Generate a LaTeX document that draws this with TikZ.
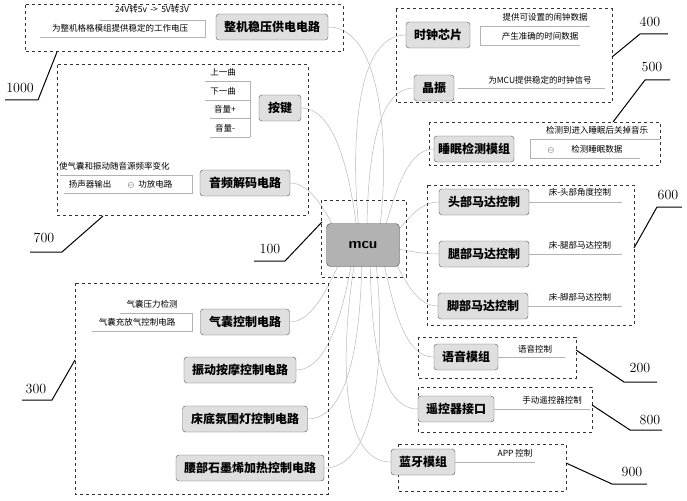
\documentclass[tikz,border=0pt]{standalone}
\usepackage{fontspec}
\newfontfamily\cjk{Noto Sans CJK SC}
\usetikzlibrary{backgrounds}
\tikzset{
 mod/.style={draw=gray!70!black,fill=gray!25,rounded corners=3pt,font=\cjk\bfseries\fontsize{12}{12}\selectfont,minimum height=26pt,inner sep=2pt},
 sm/.style={font=\cjk\fontsize{8.5}{9}\selectfont,inner sep=1pt},
 grp/.style={draw=black!80,dashed,line width=1pt},
 num/.style={font=\fontsize{14}{14}\selectfont},
 lead/.style={line width=1pt},
 link/.style={draw=gray!55,line width=0.5pt},
 ul/.style={draw=gray!60,line width=0.6pt}
}
\begin{document}
\begin{tikzpicture}[x=1pt,y=-1pt]
\useasboundingbox (0,0) rectangle (687,500);
% groups
\draw[grp] (25,5) rectangle (343,52);
\draw[grp] (57,65) rectangle (308,215);
\draw[grp] (321,200) rectangle (406,277);
\draw[grp] (75,283) rectangle (328,494);
\draw[grp] (396,9) rectangle (612,103);
\draw[grp] (429,122) rectangle (660,165);
\draw[grp] (427,185) rectangle (634,325);
\draw[grp] (418,337) rectangle (576,378);
\draw[grp] (418,387) rectangle (592,432);
\draw[grp] (398,444) rectangle (566,491);
% number labels
\node[num] (n1000) at (20,88) {1000};
\draw[lead] (5,100) -- (38,100) -- (57,52);
\node[num] (n700) at (44,238) {700};
\draw[lead] (30,252) -- (62,252) -- (103,216);
\node[num] (n100) at (270,249) {100};
\draw[lead] (254,261) -- (285,261) -- (322,222);
\node[num] (n300) at (36,389) {300};
\draw[lead] (22,400) -- (52,400) -- (75,360);
\node[num] (n400) at (650,22) {400};
\draw[lead] (668,34) -- (640,34) -- (612,57);
\node[num] (n500) at (652,67) {500};
\draw[lead] (670,80) -- (645,80) -- (613,122);
\node[num] (n600) at (668,195) {600};
\draw[lead] (682,207) -- (657,207) -- (634,248);
\node[num] (n200) at (640,368) {200};
\draw[lead] (576,350) -- (624,382) -- (657,382);
\node[num] (n800) at (650,420) {800};
\draw[lead] (592,405) -- (630,430) -- (662,430);
\node[num] (n900) at (632,472) {900};
\draw[lead] (566,463) -- (612,484) -- (647,484);
% mcu
\node[draw=black!70,fill=gray!60,rounded corners=4pt,minimum width=73pt,minimum height=43pt,font=\sffamily\bfseries\fontsize{15}{15}\selectfont] (mcu) at (363,245) {mcu};
% modules
\node[mod,minimum width=112pt] (pw) at (272,27) {整机稳压供电电路};
\node[mod,minimum width=42pt] (key) at (280,108) {按键};
\node[mod,minimum width=90pt] (aud) at (245,183) {音频解码电路};
\node[mod,minimum width=89pt] (air) at (245,322) {气囊控制电路};
\node[mod,minimum width=112pt] (vib) at (240,370) {振动按摩控制电路};
\node[mod,minimum width=125pt] (lamp) at (245,419) {床底氛围灯控制电路};
\node[mod,minimum width=148pt] (heat) at (250,468) {腰部石墨烯加热控制电路};
\node[mod,minimum width=64pt] (clk) at (438,35) {时钟芯片};
\node[mod,minimum width=40pt] (xt) at (434,88) {晶振};
\node[mod,minimum width=80pt] (slp) at (474,149) {睡眠检测模组};
\node[mod,minimum width=90pt] (hd) at (484,202) {头部马达控制};
\node[mod,minimum width=90pt] (lg) at (484,254) {腿部马达控制};
\node[mod,minimum width=90pt] (ft) at (483,306) {脚部马达控制};
\node[mod,minimum width=64pt] (voi) at (466,357) {语音模组};
\node[mod,minimum width=76pt] (rc) at (456,409) {遥控器接口};
\node[mod,minimum width=64pt] (bt) at (423,462) {蓝牙模组};
% small texts
\node[sm] (t1) at (152,9) {24V转5v \,->\, 5V转3V};
\node[sm] (t2) at (120,28) {为整机格格模组提供稳定的工作电压};
\draw[ul] (40,37) -- (205,37) -- (205,20) -- (100,20);
\node[sm] (k1) at (223,72) {上一曲};
\node[sm] (k2) at (223,91) {下一曲};
\node[sm] (k3) at (225,109) {音量+};
\node[sm] (k4) at (225,128) {音量-};
\draw[ul] (205,81) -- (250,81) (205,100) -- (250,100) (210,118) -- (250,118) (210,137) -- (250,137) (250,81) -- (250,137);
\node[sm,anchor=west] (a1) at (58,166) {使气囊和振动随音源频率变化};
\node[sm] (a2) at (90,184) {扬声器输出};
\node[sm] (a3) at (150,184) {$\ominus$\; 功放电路};
\draw[ul] (60,175) -- (192,175) -- (192,193) -- (64,193);
\node[sm] (q1) at (152,304) {气囊压力检测};
\node[sm] (q2) at (137,322) {气囊充放气控制电路};
\draw[ul] (92,331) -- (192,331) -- (192,313) -- (120,313);
\node[sm] (c1) at (545,17) {提供可设置的闹钟数据};
\node[sm] (c2) at (540,36) {产生准确的时间数据};
\draw[ul] (480,26) -- (590,26) (480,26) -- (480,45) -- (580,45);
\node[sm] (x1) at (540,80) {为MCU提供稳定的时钟信号};
\draw[ul] (458,88) -- (605,88);
\node[sm] (s1) at (597,130) {检测到进入睡眠后关掉音乐};
\node[sm] (s2) at (585,149) {$\ominus$\qquad 检测睡眠数据};
\draw[ul] (530,139) -- (660,139) (530,139) -- (530,158) -- (640,158);
\node[sm] (m1) at (580,192) {床-头部角度控制};
\draw[ul] (529,202) -- (622,202);
\node[sm] (m2) at (580,245) {床-腿部马达控制};
\draw[ul] (529,254) -- (622,254);
\node[sm] (m3) at (580,297) {床-脚部马达控制};
\draw[ul] (528,306) -- (622,306);
\node[sm] (v1) at (535,349) {语音控制};
\draw[ul] (498,357) -- (565,357);
\node[sm] (r1) at (552,400) {手动遥控器控制};
\draw[ul] (494,409) -- (590,409);
\node[sm] (b1) at (515,453) {APP 控制};
\draw[ul] (455,462) -- (535,462);
% connectors
\begin{scope}[on background layer]
\foreach \n/\o/\i in {pw/-80/0, key/-95/0, aud/-120/0, air/110/0, vib/100/0, lamp/95/0, heat/85/0}
  \draw[link] (mcu.center) to[out=\o,in=\i] (\n.east);
\foreach \n/\o/\i in {clk/-85/180, xt/-80/180, slp/-60/180, hd/-20/180, lg/0/180, ft/30/180, voi/60/180, rc/75/180, bt/85/180}
  \draw[link] (mcu.center) to[out=\o,in=\i] (\n.west);
\end{scope}
\end{tikzpicture}
\end{document}
